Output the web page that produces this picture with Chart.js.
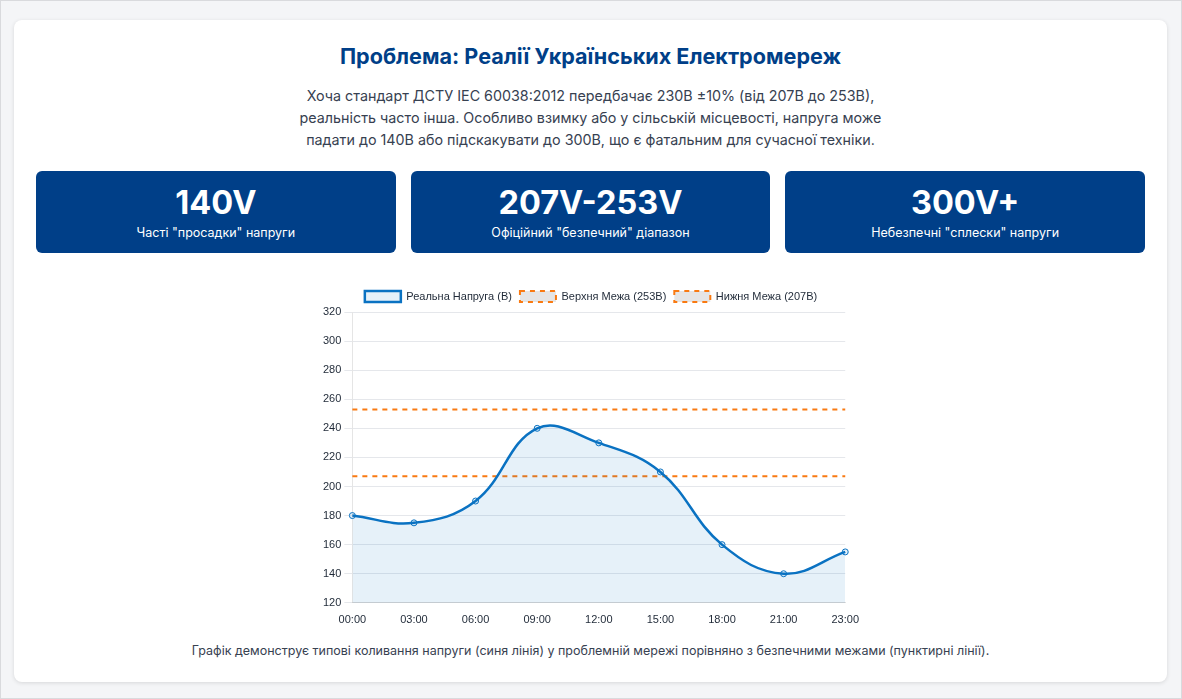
<!DOCTYPE html>
<html lang="uk">
<head>
<meta charset="utf-8">
<title>Проблема: Реалії Українських Електромереж</title>
<script src="https://cdn.jsdelivr.net/npm/chart.js@4"></script>
<style>
  html, body { margin: 0; padding: 0; }
  body {
    width: 1182px; height: 699px; box-sizing: border-box;
    background: #f4f5f7; font-family: Inter, "Noto Sans", sans-serif;
    border: 1px solid #d9dadd; position: relative; overflow: hidden;
  }
  .card {
    position: absolute; left: 13px; top: 19px; width: 1153px; height: 662px;
    box-sizing: border-box; background: #fff; border-radius: 8px;
    box-shadow: 0 1px 4px rgba(0,0,0,0.12); padding: 21px 22px 0 22px;
  }
  h2 {
    margin: 0; text-align: center; color: #003f88; font-size: 21.6px;
    line-height: 30px; font-weight: 700;
  }
  p.lead {
    margin: 14px auto 0; text-align: center; color: #374151; font-size: 14.3px;
    line-height: 22px;
  }
  .stats { display: flex; gap: 15px; margin-top: 20px; }
  .stat {
    flex: 1; height: 82px; background: #003f88; border-radius: 6px; color: #fff;
    text-align: center; box-sizing: border-box; padding-top: 13px;
  }
  .stat .num { font-size: 32.5px; font-weight: 700; line-height: 38px; }
  .stat .lbl { font-size: 12.5px; line-height: 18px; margin-top: 2px; }
  .chart-box { width: 542px; height: 350px; margin: 27px auto 0; position: relative; }
  .caption {
    text-align: center; color: #374151; font-size: 12.5px; line-height: 20px; margin-top: 11px;
  }
</style>
</head>
<body>
<div class="card">
  <h2>Проблема: Реалії Українських Електромереж</h2>
  <p class="lead">Хоча стандарт ДСТУ IEC 60038:2012 передбачає 230В ±10% (від 207В до 253В),<br>реальність часто інша. Особливо взимку або у сільській місцевості, напруга може<br>падати до 140В або підскакувати до 300В, що є фатальним для сучасної техніки.</p>
  <div class="stats">
    <div class="stat"><div class="num">140V</div><div class="lbl">Часті "просадки" напруги</div></div>
    <div class="stat"><div class="num">207V-253V</div><div class="lbl">Офіційний "безпечний" діапазон</div></div>
    <div class="stat"><div class="num">300V+</div><div class="lbl">Небезпечні "сплески" напруги</div></div>
  </div>
  <div class="chart-box"><canvas id="voltageChart"></canvas></div>
  <div class="caption">Графік демонструє типові коливання напруги (синя лінія) у проблемній мережі порівняно з безпечними межами (пунктирні лінії).</div>
</div>
<script>
// time of day and measured voltage
const hours = ['00:00', '03:00', '06:00', '09:00', '12:00', '15:00', '18:00', '21:00', '23:00'];
const realVoltage = [180, 175, 190, 240, 230, 210, 160, 140, 155];
const upperLimit = [253, 253, 253, 253, 253, 253, 253, 253, 253];
const lowerLimit = [207, 207, 207, 207, 207, 207, 207, 207, 207];

const ctx = document.getElementById('voltageChart').getContext('2d');

const chart = new Chart(ctx, {
    type: 'line',
    data: {
        labels: hours,
        datasets: [
            {
                label: 'Реальна Напруга (В)',
                data: realVoltage,
                borderColor: '#0a72c2',
                backgroundColor: 'rgba(10, 114, 194, 0.1)',
                borderWidth: 2.5,
                fill: true,
                tension: 0.4,
                pointRadius: 3,
                pointBorderWidth: 1,
                pointBackgroundColor: 'rgba(10, 114, 194, 0.1)'
            },
            {
                label: 'Верхня Межа (253В)',
                data: upperLimit,
                borderColor: '#f97a12',
                backgroundColor: 'rgba(0, 0, 0, 0.1)',
                borderWidth: 2,
                borderDash: [5, 5],
                pointRadius: 0,
                fill: false
            },
            {
                label: 'Нижня Межа (207В)',
                data: lowerLimit,
                borderColor: '#f97a12',
                backgroundColor: 'rgba(0, 0, 0, 0.1)',
                borderWidth: 2,
                borderDash: [5, 5],
                pointRadius: 0,
                fill: false
            }
        ]
    },
    options: {
        responsive: true,
        maintainAspectRatio: false,
        animation: false,
        layout: { padding: { top: 3 } },
        plugins: {
            legend: {
                labels: { boxWidth: 36, boxHeight: 11, padding: 8, color: '#1f2937', font: { size: 11 } }
            },
            tooltip: { enabled: false }
        },
        scales: {
            x: {
                ticks: { color: '#1f2937', font: { size: 11 } },
                grid: { display: false }
            },
            y: {
                min: 120,
                max: 320,
                ticks: { stepSize: 20, color: '#1f2937', font: { size: 11 } },
                grid: { color: '#e5e7eb' }
            }
        }
    }
});
</script>
</body>
</html>
